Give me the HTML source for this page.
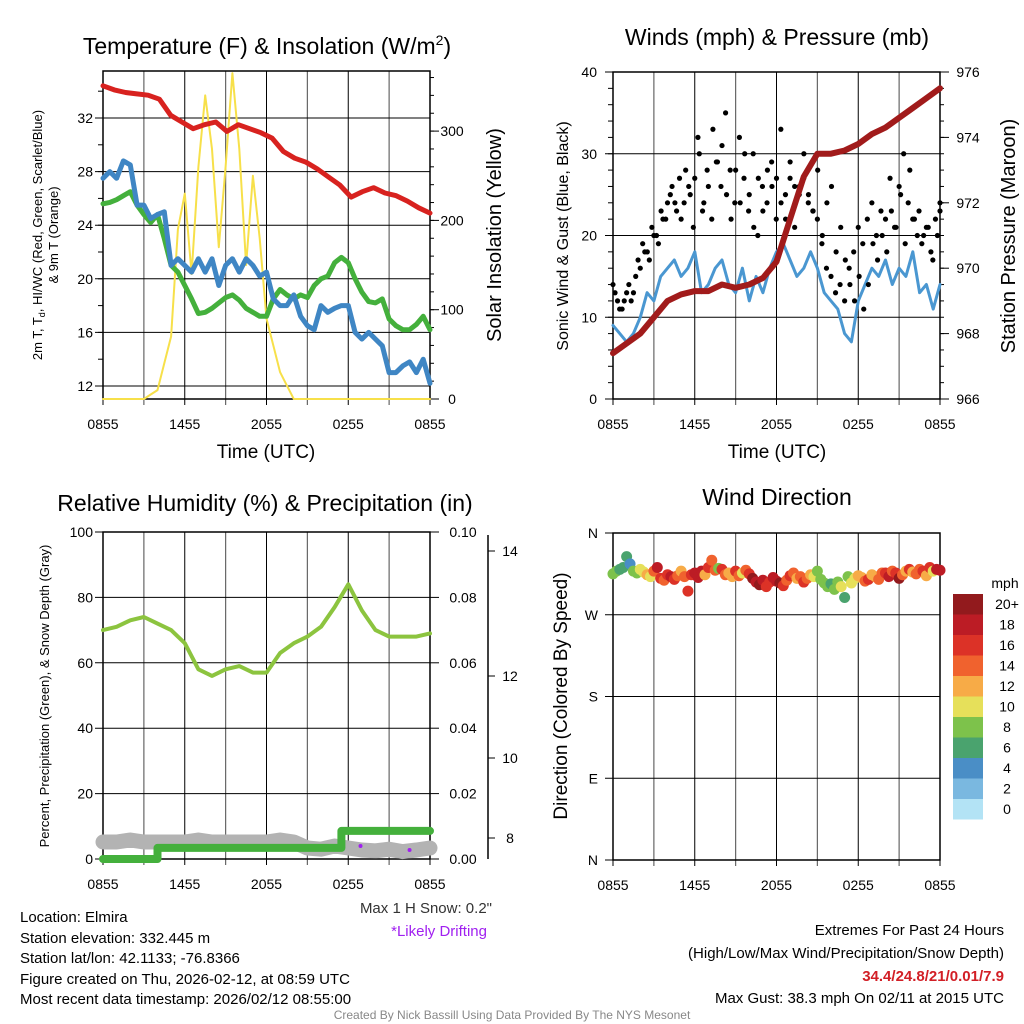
<!DOCTYPE html>
<html><head><meta charset="utf-8"><style>
body{margin:0;background:#fff;}
svg{display:block;font-family:"Liberation Sans",sans-serif;}
</style></head><body>
<svg id="chart" width="1024" height="1024" viewBox="0 0 1024 1024" xmlns="http://www.w3.org/2000/svg">
<rect width="1024" height="1024" fill="#fff"/>
<g id="g1"></g>
<g id="g2"></g>
<g id="g3"></g>
<g id="g4"></g>
<text x="267" y="54" font-size="23" text-anchor="middle">Temperature (F) &amp; Insolation (W/m<tspan dy="-9" font-size="14">2</tspan><tspan dy="9">)</tspan></text>
<text x="777" y="45" font-size="23" text-anchor="middle">Winds (mph) &amp; Pressure (mb)</text>
<text x="265" y="511" font-size="23" text-anchor="middle">Relative Humidity (%) &amp; Precipitation (in)</text>
<text x="777" y="505" font-size="23" text-anchor="middle">Wind Direction</text>
<text x="266" y="458" font-size="19" text-anchor="middle">Time (UTC)</text>
<text x="777" y="458" font-size="19" text-anchor="middle">Time (UTC)</text>
<text transform="translate(42,235) rotate(-90)" font-size="13" text-anchor="middle">2m T, T<tspan dy="3" font-size="9">d</tspan><tspan dy="-3">, HI/WC (Red, Green, Scarlet/Blue)</tspan></text>
<text transform="translate(58,235) rotate(-90)" font-size="13" text-anchor="middle">&amp; 9m T (Orange)</text>
<text transform="translate(501,235) rotate(-90)" font-size="20" text-anchor="middle">Solar Insolation (Yellow)</text>
<text transform="translate(568,236) rotate(-90)" font-size="16" text-anchor="middle">Sonic Wind &amp; Gust (Blue, Black)</text>
<text transform="translate(1015,236) rotate(-90)" font-size="20" text-anchor="middle">Station Pressure (Maroon)</text>
<text transform="translate(49,696) rotate(-90)" font-size="13" text-anchor="middle">Percent, Precipitation (Green), &amp; Snow Depth (Gray)</text>
<text transform="translate(567,696) rotate(-90)" font-size="19" text-anchor="middle">Direction (Colored By Speed)</text>
<text x="492" y="913" font-size="15" text-anchor="end" fill="#333">Max 1 H Snow: 0.2"</text>
<text x="487" y="936" font-size="15" text-anchor="end" fill="#a020f0">*Likely Drifting</text>
<g font-size="15">
<text x="20" y="922">Location: Elmira</text>
<text x="20" y="943">Station elevation: 332.445 m</text>
<text x="20" y="963">Station lat/lon: 42.1133; -76.8366</text>
<text x="20" y="984">Figure created on Thu, 2026-02-12, at 08:59 UTC</text>
<text x="20" y="1004">Most recent data timestamp: 2026/02/12 08:55:00</text>
</g>
<g font-size="15" text-anchor="end">
<text x="1004" y="935">Extremes For Past 24 Hours</text>
<text x="1004" y="958">(High/Low/Max Wind/Precipitation/Snow Depth)</text>
<text x="1004" y="981" fill="#d21f26" font-weight="bold">34.4/24.8/21/0.01/7.9</text>
<text x="1004" y="1003">Max Gust: 38.3 mph On 02/11 at 2015 UTC</text>
</g>
<text x="512" y="1019" font-size="12" fill="#888" text-anchor="middle">Created By Nick Bassill Using Data Provided By The NYS Mesonet</text>
</svg>
<script>
// ---- data ----
const timeLabels = ["0855","1455","2055","0255","0855"];
const tempRed = [34.4,34.1,33.9,33.8,33.7,33.4,32.2,31.7,31.2,31.5,31.7,31.0,31.5,31.2,30.9,30.5,29.5,29.0,28.7,28.2,27.6,27.0,26.1,26.5,26.8,26.4,26.2,25.8,25.3,24.9];
const tempGreen = [25.6,25.7,25.9,26.2,26.5,25.5,24.8,24.2,24.8,23.0,21.0,20.5,19.5,18.5,17.4,17.5,17.8,18.2,18.6,18.8,18.4,17.8,17.5,17.2,17.2,18.5,19.2,18.8,18.5,18.8,18.6,19.5,20.0,20.2,21.2,21.6,21.2,20.0,19.0,18.3,18.2,18.5,17.0,16.5,16.2,16.2,16.6,17.2,16.2];
const tempBlue = [27.5,28.0,27.5,28.8,28.5,25.5,25.5,24.5,24.8,25.0,21.0,21.5,21.0,20.5,21.5,20.5,21.5,19.5,21.0,21.5,20.5,21.5,21.0,20.2,20.5,18.5,18.0,18.0,18.8,17.2,16.5,16.2,18.0,17.5,17.8,18.0,18.0,16.0,15.5,16.0,15.5,15.0,13.0,13.0,13.5,13.8,13.0,14.0,12.2];
const solar = [0,0,0,0,0,0,0,5,10,40,70,190,230,140,260,340,280,170,260,365,280,150,250,180,90,60,30,15,0,0,0,0,0,0,0,0,0,0,0,0,0,0,0,0,0,0,0,0,0];
const windSpeed = [9,8,7,8,10,13,12,15,16,17,15,16,18,13,14,16,17,14,13,16,12,15,13,16,18,19,17,15,16,18,16,13,12,11,8,7,12,14,16,15,17,14,16,15,18,13,14,11,14];
const gustA = [14,12,11,13,12,15,16,18,17,20,19,22,24,26,23,22,28,25,27,30,24,26,33,29,31,25,22,28,24,30,25,21,27,23,28,26,27,24,22,29,26,25,27,24,23,22,19,16,15,13,14,12,16,18,21,19,22,24,20,23,22,27,21,26,30,24,22,20,19,21,18,22,23];
const gustB = [13,11,12,14,13,17,19,18,21,20,23,22,25,24,27,24,26,21,32,23,28,22,29,26,35,28,24,32,27,23,30,20,26,24,29,22,33,25,27,21,26,30,25,23,28,20,24,26,18,21,17,14,12,15,11,14,19,17,20,18,23,21,25,19,28,22,23,20,21,17,20,24];
const pressure = [967.4,967.7,968.0,968.5,969.0,969.2,969.3,969.3,969.5,969.4,969.5,969.7,970.2,971.5,972.8,973.5,973.5,973.6,973.8,974.1,974.3,974.6,974.9,975.2,975.5];
const rh = [70,71,73,74,72,70,66,58,56,58,59,57,57,63,66,68,71,77,84,76,70,68,68,68,69];
const precipHours = [0,4.0,4.0,17.5,17.5,24];
const precipVals = [0,0,0.0034,0.0034,0.0086,0.0086];
const snowDepth = [7.9,7.9,7.95,7.9,7.9,7.9,7.9,7.95,7.9,7.9,7.9,7.9,7.9,7.95,7.9,7.75,7.72,7.8,7.75,7.7,7.68,7.72,7.66,7.7,7.75];
const driftHours = [18.9,22.5];
const driftVals = [7.8,7.7];
const dirDeg = [315,318,320,322,334,326,318,316, 320,317,314,312,318,322,310,308, 314,312,309,313,318,312,296,314, 316,311,318,314,322,330,319,321, 320,314,316,312,318,313,316,319, 315,310,306,303,308,301,306,311, 307,305,302,308,313,316,310,312, 306,310,314,312,318,309,305,301, 304,298,306,301,289,312,305,310, 313,311,307,309,314,312,309,316, 316,312,318,316,310,314,318,320, 317,315,320,318,313,322,318,320,319];
const dirSpeed = [8,8,7,7,6,5,8,9, 10,10,12,11,15,18,16,14, 16,18,17,15,13,15,16,17, 18,18,19,12,16,14,15,9, 16,15,13,12,17,14,11,15, 16,20,19,20,18,16,17,18, 19,20,17,14,16,15,13,14, 16,14,12,10,9,8,9,8, 6,8,8,10,7,9,11,10, 12,13,14,16,12,12,15,14, 16,18,15,17,20,14,13,16, 12,14,15,17,13,16,11,18,18];
const speedLabels = ["20+","18","16","14","12","10","8","6","4","2","0"];
const speedColors = ["#921a1d","#bc1c25","#dc3227","#f0622e","#f7ab47","#e6e05a","#7dc24b","#4aa36e","#4a8ec6","#7ab8e0","#b3e3f5"];
const tempTicks = [12,16,20,24,28,32];
const solarTicks = [0,100,200,300];
const windTicks = [0,10,20,30,40];
const presTicks = [966,968,970,972,974,976];
const rhTicks = [0,20,40,60,80,100];
const precipTicks = [0,0.02,0.04,0.06,0.08,0.10];
const snowTicks = [8,10,12,14];
const dirTicks = ["N","W","S","E","N"];

// ---- helpers ----
const NS = "http://www.w3.org/2000/svg";
function mk(tag, attrs, parent){const e=document.createElementNS(NS,tag);for(const k in attrs)e.setAttribute(k,attrs[k]);parent.appendChild(e);return e;}
const g1=document.getElementById('g1'),g2=document.getElementById('g2'),g3=document.getElementById('g3'),g4=document.getElementById('g4');
const L=[103,613], W=327;
function tx(px0,h){return px0+h*W/24;}
function idxH(i,n){return i*24/(n-1);}
const yTemp=v=>386-(v-12)*13.4, ySol=v=>399-v*0.893;
const yWind=v=>399-v*8.175, yPres=v=>399-(v-966)*32.7;
const yRH=v=>859-v*3.27, yPrec=v=>859-v*3270, ySnow=v=>838-(v-8)*40;
const yDir=d=>860-d/360*327;

function frame(g,x0,top,bot){
  for(let h=0;h<=24;h+=3){
    const l=mk('line',{x1:tx(x0,h),x2:tx(x0,h),y1:top,y2:bot+6,stroke:h%6?'#666':'#000','stroke-width':h%6?1.2:1},g);
    
    
  }
  timeLabels.forEach((t,i)=>{
    const e=mk('text',{x:tx(x0,i*6),y:bot+30,'font-size':14,'text-anchor':'middle'},g);e.textContent=t;
    
    
  });
  const r=mk('rect',{x:x0,y:top,width:W,height:bot-top,fill:'none',stroke:'#000','stroke-width':1.5},g);
  
  
}
function hgrid(g,x0,ticks,yf,labels,lx){
  ticks.forEach((v,i)=>{
    const y=yf(v);
    const l=mk('line',{x1:x0-8,x2:x0+W,y1:y,y2:y,stroke:'#000','stroke-width':1},g);
    
    
    const t=mk('text',{x:lx,y:y+5,'font-size':14,'text-anchor':'end'},g);t.textContent=labels?labels[i]:v;
    
    
  });
}
function rightAxis(g,ax,ticks,yf,fmt,lx){
  ticks.forEach(v=>{
    const y=yf(v);
    mk('line',{x1:ax,x2:ax+9,y1:y,y2:y,stroke:'#000'},g);
    const t=mk('text',{x:lx,y:y+5,'font-size':14,'text-anchor':'middle'},g);t.textContent=fmt(v);
    
    
  });
}
function path(g,xs,ys,attrs,name){
  let d='';xs.forEach((x,i)=>{d+=(i?'L':'M')+x.toFixed(1)+','+ys[i].toFixed(1);});
  const p=mk('path',Object.assign({d:d,fill:'none','stroke-linejoin':'round','stroke-linecap':'round'},attrs),g);
  
  
  return p;
}

// ---- panel 1 ----
frame(g1,L[0],71,399);
hgrid(g1,L[0],tempTicks,yTemp,null,93);
for(let v=12;v<=35;v+=2){mk('line',{x1:L[0]-5,x2:L[0],y1:yTemp(v),y2:yTemp(v),stroke:'#000'},g1);}
for(let v=0;v<=360;v+=20){mk('line',{x1:430,x2:434,y1:ySol(v),y2:ySol(v),stroke:'#000'},g1);}
rightAxis(g1,430,solarTicks,ySol,v=>v,452);
path(g1,solar.map((v,i)=>tx(L[0],idxH(i,solar.length))),solar.map(ySol),{stroke:'#f7e04a','stroke-width':2},'solar-line');
path(g1,tempGreen.map((v,i)=>tx(L[0],idxH(i,tempGreen.length))),tempGreen.map(yTemp),{stroke:'#44b03c','stroke-width':5},'dewpoint-line');
path(g1,tempBlue.map((v,i)=>tx(L[0],idxH(i,tempBlue.length))),tempBlue.map(yTemp),{stroke:'#3f86c4','stroke-width':5},'windchill-line');
path(g1,tempRed.map((v,i)=>tx(L[0],idxH(i,tempRed.length))),tempRed.map(yTemp),{stroke:'#d8221f','stroke-width':5},'temperature-line');

// ---- panel 2 ----
frame(g2,L[1],72,399);
hgrid(g2,L[1],windTicks,yWind,null,597);
for(let v=0;v<=40;v+=2){mk('line',{x1:L[1]-5,x2:L[1],y1:yWind(v),y2:yWind(v),stroke:'#000'},g2);}
for(let v=966;v<=976;v+=0.5){mk('line',{x1:940,x2:944,y1:yPres(v),y2:yPres(v),stroke:'#000'},g2);}
rightAxis(g2,940,presTicks,yPres,v=>v,968);
path(g2,windSpeed.map((v,i)=>tx(L[1],idxH(i,windSpeed.length))),windSpeed.map(yWind),{stroke:'#4a97d1','stroke-width':3},'wind-speed-line');
[gustA,gustB].forEach((arr,k)=>{
  arr.forEach((v,i)=>{
    const h=Math.min(24,idxH(i,arr.length)+k*0.15);
    const c=mk('circle',{cx:tx(L[1],h),cy:yWind(v),r:2.6,fill:'#000'},g2);
    
    
  });
});
path(g2,pressure.map((v,i)=>tx(L[1],idxH(i,pressure.length))),pressure.map(yPres),{stroke:'#a11b1b','stroke-width':6},'pressure-line');

// ---- panel 3 ----
frame(g3,L[0],532,859);
hgrid(g3,L[0],rhTicks,yRH,null,93);
rightAxis(g3,430,precipTicks,yPrec,v=>v.toFixed(2),463);
const ax2=mk('line',{x1:488,x2:488,y1:535,y2:859,stroke:'#000','stroke-width':1.5},g3);


const snowPos=[838,758,676,551];
snowTicks.forEach((v,i)=>{
  mk('line',{x1:488,x2:495,y1:snowPos[i],y2:snowPos[i],stroke:'#000'},g3);
  const t=mk('text',{x:510,y:snowPos[i]+5,'font-size':14,'text-anchor':'middle'},g3);t.textContent=v;
  
  
});
path(g3,snowDepth.map((v,i)=>tx(L[0],idxH(i,snowDepth.length))),snowDepth.map(ySnow),{stroke:'#b3b3b3','stroke-width':15},'snow-depth-line');
path(g3,precipHours.map(h=>tx(L[0],h)),precipVals.map(yPrec),{stroke:'#44b03c','stroke-width':8},'precipitation-line');
path(g3,rh.map((v,i)=>tx(L[0],idxH(i,rh.length))),rh.map(yRH),{stroke:'#8cc43f','stroke-width':4},'humidity-line');
driftHours.forEach((h,i)=>{
  const c=mk('circle',{cx:tx(L[0],h),cy:ySnow(driftVals[i]),r:2,fill:'#a020f0'},g3);
  
  
});

// ---- panel 4 ----
frame(g4,L[1],533,860);
hgrid(g4,L[1],[360,270,180,90,0],yDir,dirTicks,598);
dirDeg.forEach((d,i)=>{
  const k=Math.min(10,Math.floor(dirSpeed[i]/2));
  const c=mk('circle',{cx:tx(L[1],idxH(i,dirDeg.length)),cy:yDir(d),r:5.5,fill:speedColors[10-k]},g4);
  
  
});
const mph=mk('text',{x:1005,y:588,'font-size':14,'text-anchor':'middle'},g4);mph.textContent='mph';


speedLabels.forEach((s,i)=>{
  const y=594+i*20.5;
  const r=mk('rect',{x:953,y:y,width:30,height:20.5,fill:speedColors[i]},g4);
  
  
  const t=mk('text',{x:1007,y:y+15,'font-size':14,'text-anchor':'middle'},g4);t.textContent=s;
  
  
});
</script>
</body></html>
